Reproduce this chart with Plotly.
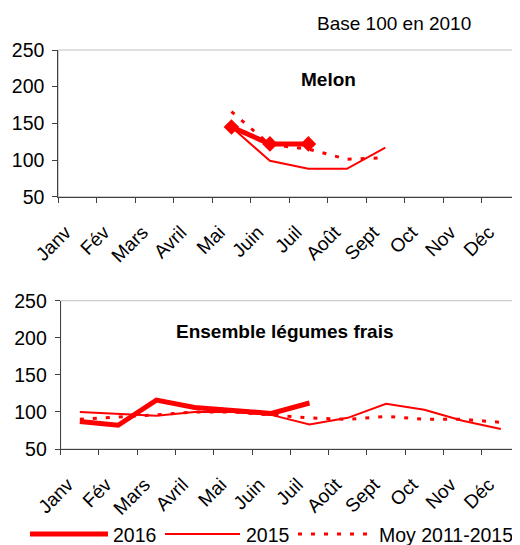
import plotly.graph_objects as go

months = ["Janv", "Fév", "Mars", "Avril", "Mai", "Juin", "Juil", "Août", "Sept", "Oct", "Nov", "Déc"]

melon_2016 = [None, None, None, None, 145, 122, 122, None, None, None, None, None]
melon_2015 = [None, None, None, None, 145, 99, 88, 88, 117, None, None, None]
melon_moy = [None, None, None, None, 166, 121, 115, 101, 103, None, None, None]

leg_2016 = [87, 82, 116, 106, 102, 98, 112, None, None, None, None, None]
leg_2015 = [100, 98, 95, 100, 100, 96, 83, 92, 111, 103, 88, 77]
leg_moy = [90, 93, 96, 100, 100, 96, 92, 90, 94, 90, 90, 86]

RED = "#ff0000"
FONT = "Liberation Sans, Arial, sans-serif"
OFF = 8  # page body margin
W, H = 520 - OFF, 545 - OFF

fig = go.Figure()

def add_panel(xa, ya, s2016, s2015, smoy, markers):
    fig.add_trace(go.Scatter(x=months, y=smoy, mode="lines", xaxis=xa, yaxis=ya,
                             line=dict(color=RED, width=3, dash="4px,9px"), showlegend=False))
    fig.add_trace(go.Scatter(x=months, y=s2015, mode="lines", xaxis=xa, yaxis=ya,
                             line=dict(color=RED, width=2), showlegend=False))
    fig.add_trace(go.Scatter(x=months, y=s2016, mode="lines+markers" if markers else "lines",
                             xaxis=xa, yaxis=ya,
                             line=dict(color=RED, width=5),
                             marker=dict(symbol="diamond", size=12, color=RED),
                             showlegend=False))

add_panel("x", "y", melon_2016, melon_2015, melon_moy, True)
add_panel("x2", "y2", leg_2016, leg_2015, leg_moy, False)

def px_(p):
    return (p - OFF) / W

def py(p):
    return 1 - (p - OFF) / H

axis_common = dict(showline=True, linecolor="#404040", linewidth=1, ticks="outside",
                   tickcolor="#404040", ticklen=5, showgrid=False, zeroline=False,
                   automargin=False)

xcommon = dict(axis_common, type="category", categoryorder="array", categoryarray=months,
               range=[-0.5, 11.5], tickson="boundaries", tickangle=-45,
               ticklabelshift=-12, ticklabelstandoff=16,
               tickfont=dict(family=FONT, size=19, color="#000"))
ycommon = dict(axis_common, range=[50, 250], dtick=50, tick0=50,
               ticklabelstandoff=4,
               tickfont=dict(family=FONT, size=19.5, color="#000"))

fig.update_layout(
    width=W, height=H,
    margin=dict(l=0, r=0, t=0, b=0, autoexpand=False),
    paper_bgcolor="white", plot_bgcolor="white",
    showlegend=False,
    xaxis=dict(xcommon, domain=[px_(58.3), 1.0], anchor="y"),
    yaxis=dict(ycommon, domain=[py(196.7), py(50)], anchor="x"),
    xaxis2=dict(xcommon, domain=[px_(60.7), 1.0], anchor="y2"),
    yaxis2=dict(ycommon, domain=[py(449), py(300.7)], anchor="x2"),
)

# light grey plot-area borders
for xr, yr in (("x domain", "y domain"), ("x2 domain", "y2 domain")):
    fig.add_shape(type="rect", xref=xr, yref=yr, x0=0, x1=1, y0=0, y1=1,
                  line=dict(color="#c0c0c0", width=1), layer="below")

annos = [
    dict(text="Base 100 en 2010", x=px_(394), y=py(23)),
    dict(text="<b>Melon</b>", x=px_(328), y=py(79)),
    dict(text="<b>Ensemble légumes frais</b>", x=px_(285), y=py(331)),
]
for a in annos:
    fig.add_annotation(text=a["text"], x=a["x"], y=a["y"], xref="paper", yref="paper",
                       xanchor="center", yanchor="middle", showarrow=False,
                       font=dict(family=FONT, size=19, color="#000"))

# manual legend
leg_y = py(534)
legend_items = [
    ("2016", 30, 108, 111, dict(color=RED, width=5)),
    ("2015", 165, 240, 244, dict(color=RED, width=2)),
    ("Moy 2011-2015", 298, 372, 377, dict(color=RED, width=3, dash="4px,9px")),
]
for label, x0, x1, tx, ln in legend_items:
    fig.add_shape(type="line", xref="paper", yref="paper", x0=px_(x0), x1=px_(x1),
                  y0=leg_y, y1=leg_y, line=ln)
    fig.add_annotation(text=label, x=px_(tx), y=py(535), xref="paper", yref="paper",
                       xanchor="left", yanchor="middle", showarrow=False,
                       font=dict(family=FONT, size=19.5, color="#000"))

fig.write_html("out.html", config={"displayModeBar": False})
